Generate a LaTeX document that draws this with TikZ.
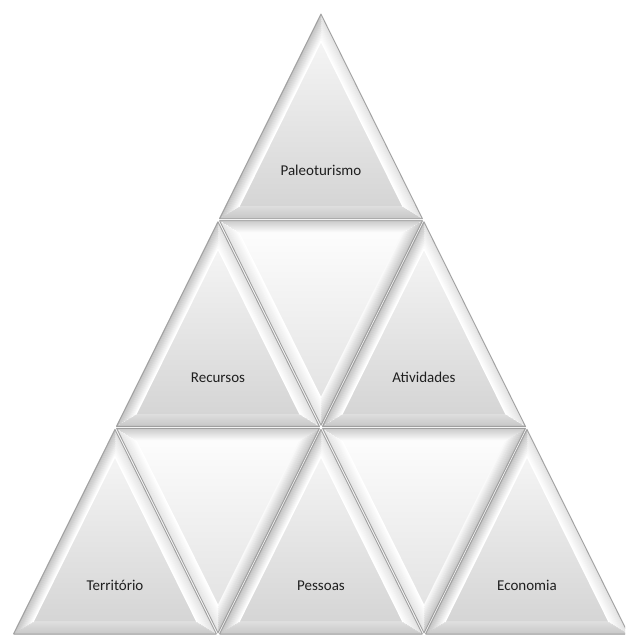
\documentclass[tikz,border=0pt]{standalone}
\usepackage{fontspec}
\setmainfont{Carlito}
\usetikzlibrary{calc}
\tikzset{
  outline/.style={draw=gray!75, line width=0.8pt, line join=miter},
  bev/.style={line width=1.3pt},
  lbl/.style={font=\fontsize{15}{18}\selectfont, text=black!88, inner sep=0pt},
}
% up-pointing triangle: name, apex x, apex y, label
\newcommand{\uptri}[4]{%
  \coordinate (#1A) at (#2,#3);
  \coordinate (#1B) at ({#2-103},{#3+207.7});
  \coordinate (#1C) at ({#2+103},{#3+207.7});
  \coordinate (#1I) at (#2,{#3+143.7});
  \shade[top color=gray!8, bottom color=gray!33]
    ($(#1I)!0.8!(#1A)$) -- ($(#1I)!0.8!(#1B)$) -- ($(#1I)!0.8!(#1C)$) -- cycle;
  \foreach \t in {1,...,13}{%
    \pgfmathsetmacro\kk{1-\t/64}%
    \pgfmathsetmacro\ff{(\t-1)/12}%
    \pgfmathsetmacro\cl{50*(1-\ff)}%
    \pgfmathsetmacro\cr{24*(1-\ff)}%
    \pgfmathsetmacro\cb{44-18*\ff}%
    \coordinate (pa) at ($(#1I)!\kk!(#1A)$);
    \coordinate (pb) at ($(#1I)!\kk!(#1B)$);
    \coordinate (pc) at ($(#1I)!\kk!(#1C)$);
    \draw[bev, gray!\cb] (pb) -- (pc);
    \draw[bev, gray!\cr] (pa) -- (pc);
    \draw[bev, gray!\cl] (pa) -- (pb);
  }
  \draw[outline] ($(#1I)!0.984!(#1A)$) -- ($(#1I)!0.984!(#1B)$) -- ($(#1I)!0.984!(#1C)$) -- cycle;
  \node[lbl] (#1) at (#2,{#3+158}) {#4};
}
% down-pointing triangle: name, centre x, top y
\newcommand{\dntri}[3]{%
  \coordinate (#1P) at ({#2-103},#3);
  \coordinate (#1Q) at ({#2+103},#3);
  \coordinate (#1R) at (#2,{#3+207.7});
  \coordinate (#1I) at (#2,{#3+64});
  \shade[top color=gray!2, bottom color=gray!22]
    ($(#1I)!0.8!(#1P)$) -- ($(#1I)!0.8!(#1Q)$) -- ($(#1I)!0.8!(#1R)$) -- cycle;
  \foreach \t in {1,...,13}{%
    \pgfmathsetmacro\kk{1-\t/64}%
    \pgfmathsetmacro\ff{(\t-1)/12}%
    \pgfmathsetmacro\ct{40*(1-\ff)+3}%
    \pgfmathsetmacro\cl{22*(1-\ff)}%
    \pgfmathsetmacro\cr{42*(1-\ff)+5}%
    \coordinate (pp) at ($(#1I)!\kk!(#1P)$);
    \coordinate (pq) at ($(#1I)!\kk!(#1Q)$);
    \coordinate (pr) at ($(#1I)!\kk!(#1R)$);
    \draw[bev, gray!\cr] (pq) -- (pr);
    \draw[bev, gray!\cl] (pp) -- (pr);
    \draw[bev, gray!\ct] (pp) -- (pq);
  }
  \draw[outline] ($(#1I)!0.984!(#1P)$) -- ($(#1I)!0.984!(#1Q)$) -- ($(#1I)!0.984!(#1R)$) -- cycle;
}
\begin{document}
\begin{tikzpicture}[x=1pt, y=-1pt]
  \useasboundingbox (0,0) rectangle (625,635);
  \clip (0,0) rectangle (625,635);
  \dntri{d1}{321}{219.67}
  \dntri{d2}{218}{427.33}
  \dntri{d3}{424}{427.33}
  \uptri{paleo}{321}{12}{Paleoturismo}
  \uptri{recursos}{218}{219.67}{Recursos}
  \uptri{atividades}{424}{219.67}{Atividades}
  \uptri{territorio}{115}{427.33}{Território}
  \uptri{pessoas}{321}{427.33}{Pessoas}
  \uptri{economia}{527}{427.33}{Economia}
\end{tikzpicture}
\end{document}
